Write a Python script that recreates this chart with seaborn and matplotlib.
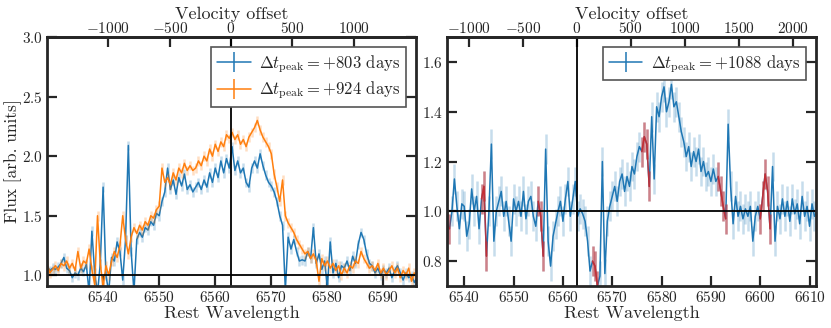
import numpy as np
import matplotlib
matplotlib.use("Agg")
import matplotlib.pyplot as plt
from matplotlib.lines import Line2D
import seaborn as sns

# ---- data ----
HALPHA = 6562.8
C_KMS = 3.0e5

wl_left = [6530.0, 6530.5, 6531.0, 6531.5, 6532.0, 6532.5, 6533.0, 6533.5, 6534.0, 6534.5,
           6535.0, 6535.5, 6536.0, 6536.5, 6537.0, 6537.5, 6538.0, 6538.5, 6539.0, 6539.5,
           6540.0, 6540.5, 6541.0, 6541.5, 6542.0, 6542.5, 6543.0, 6543.5, 6544.0, 6544.5,
           6545.0, 6545.5, 6546.0, 6546.5, 6547.0, 6547.5, 6548.0, 6548.5, 6549.0, 6549.5,
           6550.0, 6550.5, 6551.0, 6551.5, 6552.0, 6552.5, 6553.0, 6553.5, 6554.0, 6554.5,
           6555.0, 6555.5, 6556.0, 6556.5, 6557.0, 6557.5, 6558.0, 6558.5, 6559.0, 6559.5,
           6560.0, 6560.5, 6561.0, 6561.5, 6562.0, 6562.5, 6563.0, 6563.5, 6564.0, 6564.5,
           6565.0, 6565.5, 6566.0, 6566.5, 6567.0, 6567.5, 6568.0, 6568.5, 6569.0, 6569.5,
           6570.0, 6570.5, 6571.0, 6571.5, 6572.0, 6572.5, 6573.0, 6573.5, 6574.0, 6574.5,
           6575.0, 6575.5, 6576.0, 6576.5, 6577.0, 6577.5, 6578.0, 6578.5, 6579.0, 6579.5,
           6580.0, 6580.5, 6581.0, 6581.5, 6582.0, 6582.5, 6583.0, 6583.5, 6584.0, 6584.5,
           6585.0, 6585.5, 6586.0, 6586.5, 6587.0, 6587.5, 6588.0, 6588.5, 6589.0, 6589.5,
           6590.0, 6590.5, 6591.0, 6591.5, 6592.0, 6592.5, 6593.0, 6593.5, 6594.0, 6594.5,
           6595.0, 6595.5, 6596.0]

flux_803 = [1.08, 1.04, 1.06, 1.05, 1.07, 1.10, 1.15, 1.06, 1.04, 0.98,
            1.02, 1.00, 1.06, 1.03, 1.09, 0.86, 1.37, 1.02, 0.85, 1.10,
            1.74, 1.00, 0.86, 1.15, 1.12, 1.28, 1.20, 0.96, 1.30, 2.09,
            1.20, 0.86, 1.30, 1.36, 1.32, 1.40, 1.38, 1.45, 1.42, 1.52,
            1.50, 1.62, 1.70, 1.90, 1.72, 1.80, 1.68, 1.82, 1.75, 1.85,
            1.72, 1.76, 1.70, 1.74, 1.78, 1.72, 1.80, 1.74, 1.86, 1.78,
            1.90, 1.82, 1.96, 1.86, 1.98, 1.90, 2.08, 1.88, 1.96, 1.86,
            1.90, 1.78, 1.74, 1.90, 1.96, 1.90, 2.02, 1.92, 1.84, 1.78,
            1.75, 1.70, 1.62, 1.50, 1.42, 0.88, 1.32, 1.22, 1.30, 1.20,
            1.12, 1.13, 1.12, 1.20, 1.14, 1.40, 1.10, 1.18, 1.05, 1.12,
            0.90, 1.28, 1.02, 1.10, 0.98, 1.08, 1.06, 1.12, 1.04, 1.16,
            1.10, 1.26, 1.36, 1.30, 1.18, 1.10, 1.08, 1.02, 1.06, 1.00,
            1.05, 1.02, 1.06, 0.98, 1.04, 1.08, 1.02, 0.96, 1.02, 0.98,
            1.00, 0.94, 0.98]

flux_924 = [1.10, 1.02, 1.05, 1.08, 1.04, 1.10, 1.08, 1.12, 1.06, 1.10,
            1.04, 1.20, 1.06, 1.12, 1.10, 1.22, 1.05, 0.92, 1.50, 1.10,
            0.90, 1.08, 1.00, 1.12, 1.20, 1.15, 1.25, 1.50, 1.30, 1.18,
            1.32, 1.40, 1.35, 1.42, 1.38, 1.45, 1.42, 1.50, 1.48, 1.55,
            1.58, 1.90, 1.78, 1.82, 1.76, 1.86, 1.80, 1.90, 1.86, 1.94,
            1.88, 1.92, 1.88, 1.90, 1.96, 1.92, 2.00, 1.96, 2.06, 2.00,
            2.10, 2.04, 2.12, 2.08, 2.18, 2.15, 2.20, 2.14, 2.18, 2.10,
            2.14, 2.08, 2.16, 2.20, 2.24, 2.30, 2.22, 2.16, 2.12, 2.08,
            2.02, 1.85, 1.74, 1.62, 1.80, 1.50, 1.44, 1.40, 1.36, 1.30,
            1.26, 1.22, 1.18, 1.20, 1.14, 1.18, 1.12, 0.95, 1.14, 1.08,
            1.12, 1.06, 1.10, 1.04, 1.08, 1.00, 1.06, 1.02, 1.08, 1.06,
            1.12, 1.10, 1.20, 1.14, 1.10, 1.06, 1.08, 1.04, 1.10, 1.02,
            1.06, 1.00, 1.04, 1.08, 1.02, 1.06, 0.98, 1.04, 1.00, 1.06,
            0.95, 1.02, 0.98]

err_803 = 0.04
err_924 = 0.04

wl_right = [6536.5, 6537.0, 6537.5, 6538.0, 6538.5, 6539.0, 6539.5, 6540.0, 6540.5, 6541.0,
            6541.5, 6542.0, 6542.5, 6543.0, 6543.5, 6544.0, 6544.5, 6545.0, 6545.5, 6546.0,
            6546.5, 6547.0, 6547.5, 6548.0, 6548.5, 6549.0, 6549.5, 6550.0, 6550.5, 6551.0,
            6551.5, 6552.0, 6552.5, 6553.0, 6553.5, 6554.0, 6554.5, 6555.0, 6555.5, 6556.0,
            6556.5, 6557.0, 6557.5, 6558.0, 6558.5, 6559.0, 6559.5, 6560.0, 6560.5, 6561.0,
            6561.5, 6562.0, 6562.5, 6563.0, 6563.5, 6564.0, 6564.5, 6565.0, 6565.5, 6566.0,
            6566.5, 6567.0, 6567.5, 6568.0, 6568.5, 6569.0, 6569.5, 6570.0, 6570.5, 6571.0,
            6571.5, 6572.0, 6572.5, 6573.0, 6573.5, 6574.0, 6574.5, 6575.0, 6575.5, 6576.0,
            6576.5, 6577.0, 6577.5, 6578.0, 6578.5, 6579.0, 6579.5, 6580.0, 6580.5, 6581.0,
            6581.5, 6582.0, 6582.5, 6583.0, 6583.5, 6584.0, 6584.5, 6585.0, 6585.5, 6586.0,
            6586.5, 6587.0, 6587.5, 6588.0, 6588.5, 6589.0, 6589.5, 6590.0, 6590.5, 6591.0,
            6591.5, 6592.0, 6592.5, 6593.0, 6593.5, 6594.0, 6594.5, 6595.0, 6595.5, 6596.0,
            6596.5, 6597.0, 6597.5, 6598.0, 6598.5, 6599.0, 6599.5, 6600.0, 6600.5, 6601.0,
            6601.5, 6602.0, 6602.5, 6603.0, 6603.5, 6604.0, 6604.5, 6605.0, 6605.5, 6606.0,
            6606.5, 6607.0, 6607.5, 6608.0, 6608.5, 6609.0, 6609.5, 6610.0, 6610.5, 6611.0,
            6611.5]

flux_1088 = [0.95, 0.93, 1.00, 1.13, 1.02, 0.93, 1.03, 1.02, 0.90, 0.95,
             1.09, 1.00, 1.06, 0.93, 1.05, 1.10, 0.82, 1.00, 1.27, 0.88,
             1.00, 1.04, 1.08, 0.98, 1.04, 0.96, 0.88, 1.05, 1.00, 1.04,
             0.98, 1.08, 0.97, 1.04, 1.06, 0.98, 0.94, 1.04, 0.98, 0.82,
             1.25, 0.88, 0.78, 0.90, 0.95, 1.00, 1.04, 0.96, 1.05, 1.12,
             0.98, 1.05, 1.12, 0.98, 1.01, 0.99, 0.96, 0.88, 0.76, 0.80,
             0.78, 0.70, 0.74, 1.20, 0.75, 0.96, 1.02, 1.06, 1.10, 1.04,
             1.12, 1.15, 1.08, 1.14, 1.10, 1.18, 1.15, 1.22, 1.26, 1.24,
             1.30, 1.27, 1.10, 1.38, 1.13, 1.42, 1.38, 1.46, 1.50, 1.40,
             1.44, 1.51, 1.42, 1.44, 1.38, 1.32, 1.28, 1.22, 1.26, 1.18,
             1.24, 1.20, 1.25, 1.16, 1.20, 1.14, 1.16, 1.12, 1.17, 1.12,
             1.14, 1.08, 1.02, 0.97, 1.35, 1.10, 0.95, 1.06, 0.98, 1.02,
             0.97, 1.01, 0.98, 1.02, 0.88, 0.98, 1.02, 0.97, 1.06, 1.15,
             1.08, 0.93, 1.18, 0.88, 1.02, 0.97, 1.05, 0.98, 1.04, 0.96,
             1.05, 0.99, 1.03, 0.95, 1.06, 0.98, 1.02, 0.94, 1.03, 0.98,
             1.00]

err_1088 = 0.06

# wavelength windows flagged in red on the +1088 d spectrum
masked_ranges = [(6536.5, 6537.0), (6543.5, 6544.5), (6555.0, 6556.0), (6566.0, 6567.0),
                 (6576.0, 6577.5), (6591.5, 6593.0), (6600.0, 6602.0)]

BLUE = "#1f77b4"
ORANGE = "#ff7f0e"
RED = "#d62728"

sns.set_theme(style="ticks")
plt.rcParams.update({
    "font.family": ["cmr10", "DejaVu Serif"],
    "mathtext.fontset": "cm",
    "axes.formatter.use_mathtext": True,
    "axes.unicode_minus": True,
    "font.size": 11,
    "axes.linewidth": 2.0,
})


def w2v(w):
    return C_KMS * (np.asarray(w) - HALPHA) / HALPHA


def v2w(v):
    return HALPHA * (1 + np.asarray(v) / C_KMS)


def draw_spec(ax, wl, flux, err, color, alpha=0.25):
    ax.errorbar(wl, flux, yerr=err, fmt="none", ecolor=color, alpha=alpha, elinewidth=1.8)
    sns.lineplot(x=wl, y=flux, ax=ax, color=color, lw=1.1, errorbar=None)


def style_axes(ax, vticks):
    ax.tick_params(axis="both", which="major", direction="in", length=7, width=1.6,
                   top=False, right=True, labelsize=11, pad=3)
    ax.axvline(HALPHA, color="black", lw=1.3)
    ax.axhline(1.0, color="black", lw=1.3)
    sec = ax.secondary_xaxis("top", functions=(w2v, v2w))
    sec.set_xticks(vticks)
    sec.tick_params(direction="in", length=7, width=1.6, labelsize=11, pad=1)
    sec.set_xlabel("Velocity offset", fontsize=13, labelpad=1)
    ax.set_xlabel("Rest Wavelength", fontsize=13, labelpad=0)
    for s in ax.spines.values():
        s.set_linewidth(2.0)
    return sec


fig = plt.figure(figsize=(8.31, 3.28), dpi=100)
ax1 = fig.add_axes([0.0566, 0.128, 0.4440, 0.759])
ax2 = fig.add_axes([0.5379, 0.128, 0.4440, 0.759])

# left panel
draw_spec(ax1, wl_left, flux_803, err_803, BLUE)
draw_spec(ax1, wl_left, flux_924, err_924, ORANGE)
ax1.set_xlim(6530.0, 6595.8)
ax1.set_ylim(0.91, 3.0)
ax1.set_xticks([6540, 6550, 6560, 6570, 6580, 6590])
ax1.set_yticks([1.0, 1.5, 2.0, 2.5, 3.0])
ax1.set_ylabel("Flux [arb. units]", fontsize=12.5, labelpad=0)
style_axes(ax1, [-1000, -500, 0, 500, 1000])

h1 = [Line2D([], [], color=BLUE, lw=1.1, marker="|", markersize=14, mew=1.1),
      Line2D([], [], color=ORANGE, lw=1.1, marker="|", markersize=14, mew=1.1)]
leg1 = ax1.legend(h1, [r"$\Delta t_{\rm peak} = +803$ days", r"$\Delta t_{\rm peak} = +924$ days"],
                  loc="upper right", fontsize=12, fancybox=False, framealpha=1,
                  edgecolor="#555555", handlelength=2.0, borderpad=0.35, labelspacing=0.3,
                  handletextpad=0.5, borderaxespad=0.6)
leg1.get_frame().set_linewidth(1.2)

# right panel
draw_spec(ax2, wl_right, flux_1088, err_1088, BLUE)
wr = np.array(wl_right)
fr = np.array(flux_1088)
for lo, hi in masked_ranges:
    sel = (wr >= lo - 0.25) & (wr <= hi + 0.25)
    ax2.errorbar(wr[sel], fr[sel], yerr=err_1088, fmt="none", ecolor=RED, alpha=0.5, elinewidth=1.8)
    ax2.plot(wr[sel], fr[sel], color=RED, lw=1.1, alpha=0.8)
ax2.set_xlim(6536.5, 6611.3)
ax2.set_ylim(0.7, 1.7)
ax2.set_xticks([6540, 6550, 6560, 6570, 6580, 6590, 6600, 6610])
ax2.set_yticks([0.8, 1.0, 1.2, 1.4, 1.6])
ax2.set_ylabel("")
style_axes(ax2, [-1000, -500, 0, 500, 1000, 1500, 2000])

h2 = [Line2D([], [], color=BLUE, lw=1.1, marker="|", markersize=14, mew=1.1)]
leg2 = ax2.legend(h2, [r"$\Delta t_{\rm peak} = +1088$ days"],
                  loc="upper right", fontsize=12, fancybox=False, framealpha=1,
                  edgecolor="#555555", handlelength=2.0, borderpad=0.35,
                  handletextpad=0.5, borderaxespad=0.6)
leg2.get_frame().set_linewidth(1.2)

fig.savefig("out.png", dpi=100)
